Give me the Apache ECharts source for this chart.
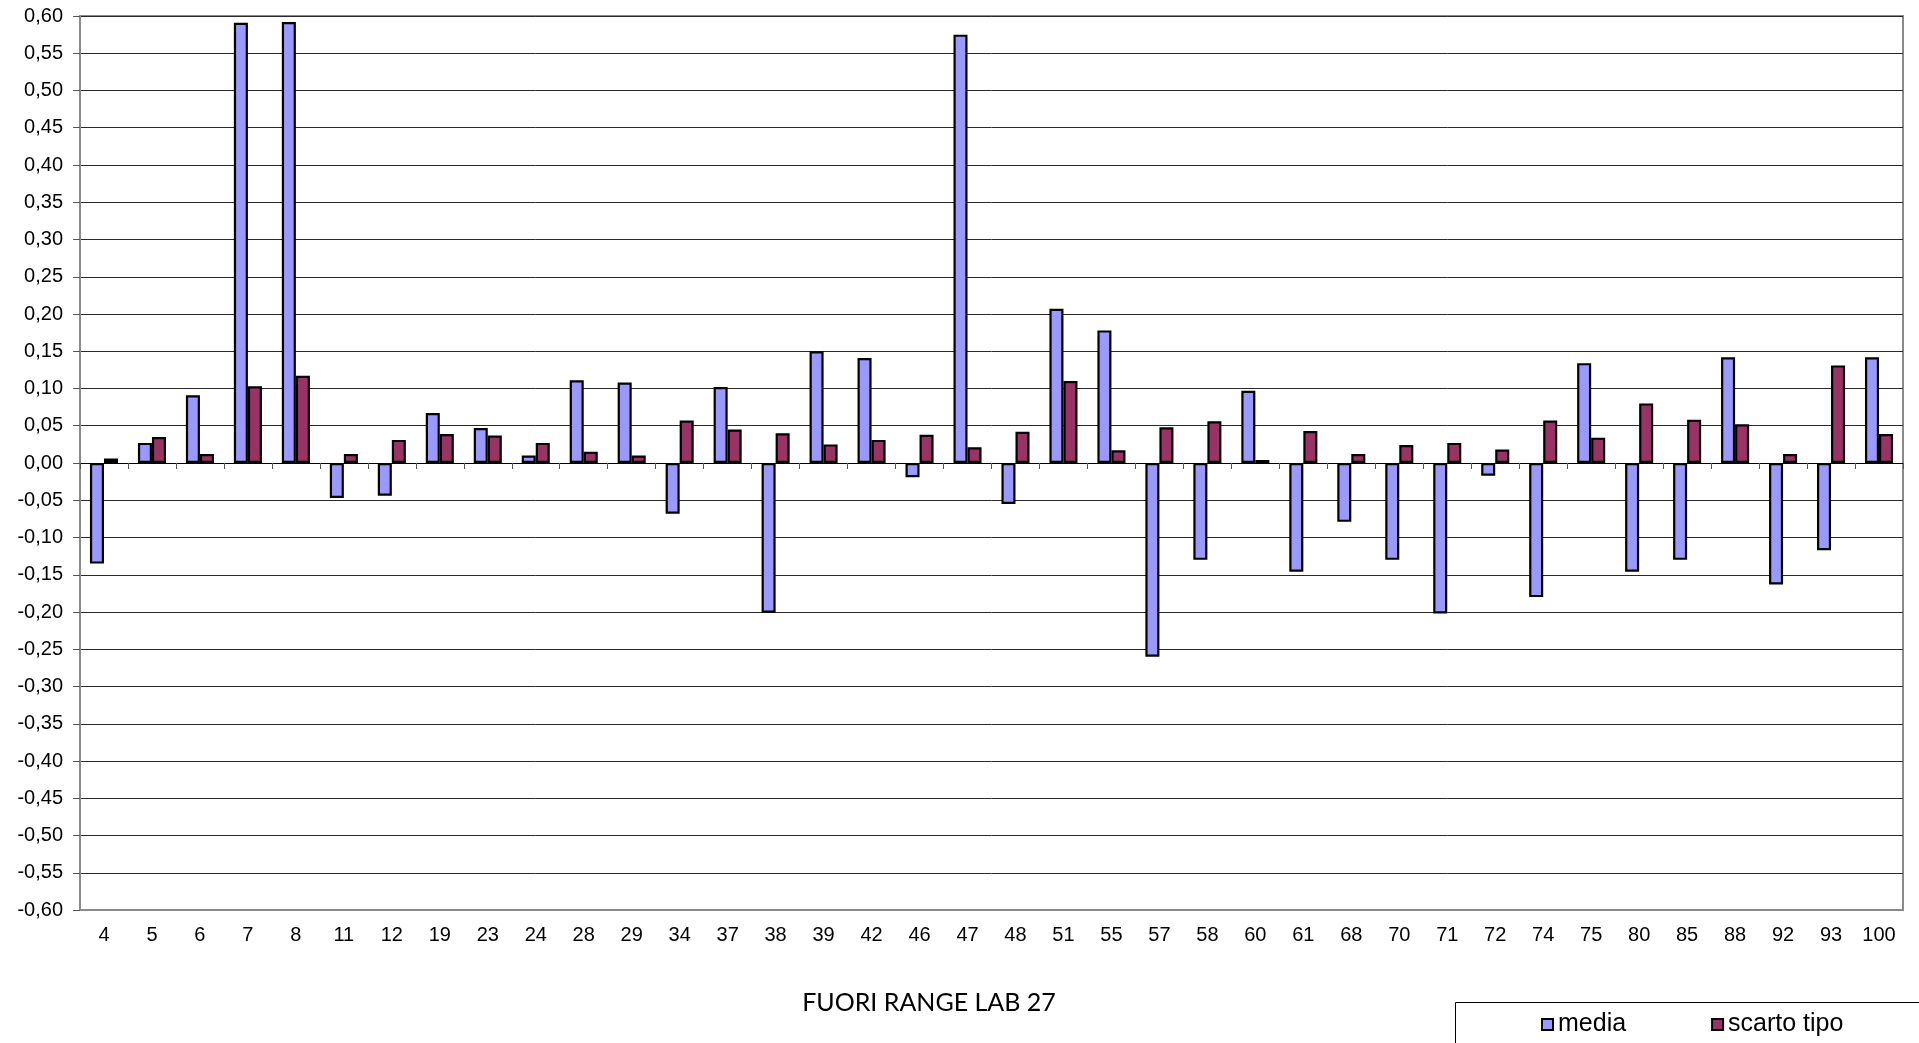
<!DOCTYPE html>
<html>
<head>
<meta charset="utf-8">
<style>
html,body{margin:0;padding:0;background:#fff;}
#chart{width:1919px;height:1043px;}
</style>
<script src="https://cdn.jsdelivr.net/npm/echarts@6/dist/echarts.min.js"></script>
</head>
<body>
<div id="chart"></div>
<script>
var categories = ['4','5','6','7','8','11','12','19','23','24','28','29','34','37','38','39','42','46','47','48','51','55','57','58','60','61','68','70','71','72','74','75','80','85','88','92','93','100'];
var media = [-0.135, 0.027, 0.091, 0.591, 0.592, -0.047, -0.044, 0.067, 0.047, 0.010, 0.111, 0.108, -0.068, 0.102, -0.201, 0.150, 0.141, -0.019, 0.575, -0.055, 0.207, 0.178, -0.260, -0.130, 0.097, -0.146, -0.079, -0.130, -0.202, -0.017, -0.180, 0.134, -0.146, -0.130, 0.142, -0.163, -0.117, 0.142];
var scartoTipo = [0.006, 0.035, 0.012, 0.103, 0.117, 0.012, 0.031, 0.039, 0.037, 0.027, 0.015, 0.010, 0.057, 0.045, 0.040, 0.025, 0.031, 0.038, 0.021, 0.042, 0.110, 0.017, 0.048, 0.056, 0.004, 0.043, 0.012, 0.024, 0.027, 0.018, 0.057, 0.034, 0.080, 0.058, 0.052, 0.012, 0.131, 0.039];
var seriesNames = ['media', 'scarto tipo'];
var titleText = 'FUORI RANGE LAB 27';
var yMin = -0.6, yMax = 0.6, yStep = 0.05;

var FONT = '"Liberation Sans", Arial, sans-serif';
var chart = echarts.init(document.getElementById('chart'), null, {renderer: 'canvas'});
var option = {
  animation: false,
  backgroundColor: '#ffffff',
  grid: {left: 80, right: 16, top: 16, bottom: 133, show: true, borderColor: '#8a8a8a', borderWidth: 2, containLabel: false},
  legend: {
    data: seriesNames,
    left: 1536, top: 1007,
    itemWidth: 11, itemHeight: 11, itemGap: 85,
    icon: 'rect',
    itemStyle: {borderColor: '#000', borderWidth: 2},
    textStyle: {fontFamily: FONT, fontSize: 25, color: '#000'}
  },
  xAxis: [{
    type: 'category', data: categories, position: 'bottom',
    axisLine: {onZero: false, lineStyle: {color: '#8a8a8a', width: 2}},
    axisTick: {show: false},
    axisLabel: {fontFamily: FONT, fontSize: 20, color: '#000', margin: 15, interval: 0},
    splitLine: {show: false}
  }, {
    type: 'category', data: categories, position: 'bottom',
    axisLine: {onZero: true, lineStyle: {color: '#000', width: 1}},
    axisTick: {show: true, length: 6, lineStyle: {color: '#555', width: 1}},
    axisLabel: {show: false},
    splitLine: {show: false}
  }],
  yAxis: {
    type: 'value', min: yMin, max: yMax, interval: yStep,
    axisLine: {show: true, lineStyle: {color: '#8a8a8a', width: 2}},
    axisTick: {show: true, length: 7, lineStyle: {color: '#555', width: 1}},
    axisLabel: {fontFamily: FONT, fontSize: 20, color: '#000', margin: 17,
      formatter: function (v) { return (Math.round(v * 100) / 100).toFixed(2).replace('.', ','); }},
    splitLine: {show: true, lineStyle: {color: '#2a2a2a', width: 1}}
  },
  series: [{
    name: seriesNames[0], type: 'bar', data: media, xAxisIndex: 0,
    barGap: '0%', barCategoryGap: '41.5%',
    itemStyle: {color: '#9999FF', borderColor: '#000', borderWidth: 2.2}
  }, {
    name: seriesNames[1], type: 'bar', data: scartoTipo, xAxisIndex: 0,
    barGap: '0%', barCategoryGap: '41.5%',
    itemStyle: {color: '#993366', borderColor: '#000', borderWidth: 2.2}
  }],
  graphic: [{
    type: 'text', x: 929, y: 1003,
    style: {text: titleText, font: '25px Lato, "Open Sans", sans-serif', fill: '#000', textAlign: 'center', textVerticalAlign: 'middle'}
  }, {
    type: 'rect', shape: {x: 1455.5, y: 1002.5, width: 520, height: 80},
    style: {fill: 'none', stroke: '#000', lineWidth: 1}, z: 10
  }]
};
chart.setOption(option);
</script>
</body>
</html>
